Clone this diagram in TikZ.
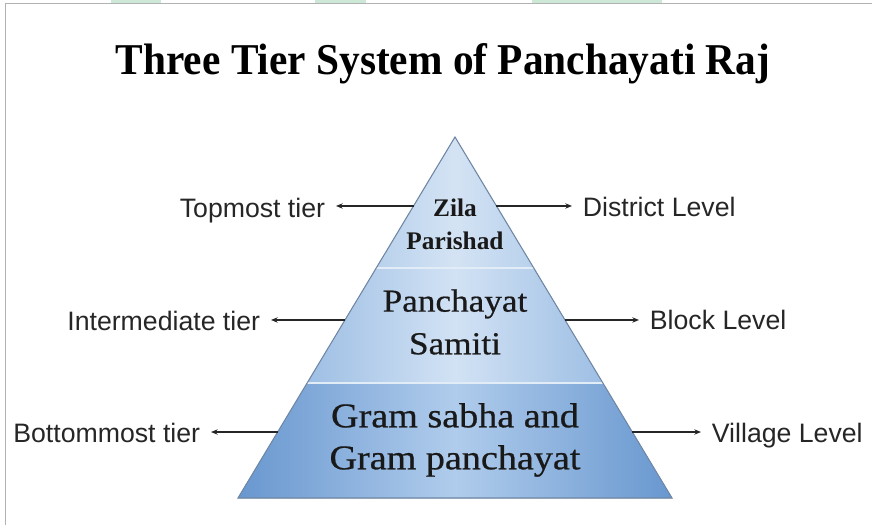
\documentclass[tikz,border=0pt]{standalone}
\usepackage{fontspec}
\setmainfont{Liberation Serif}
\newfontfamily\labelfont{Liberation Sans}
\newfontfamily\tierfont[FakeStretch=1.1,FakeBold=0.6]{Liberation Serif}
\newfontfamily\titlefont[FakeStretch=0.94]{Liberation Serif}
\usetikzlibrary{calc,arrows.meta}

\definecolor{framegray}{RGB}{178,178,178}
\definecolor{framegreen}{RGB}{205,232,215}
\definecolor{tieredge}{RGB}{112,136,166}
\definecolor{tiersep}{RGB}{226,236,247}

\tikzset{
  tierlabel/.style={font=\labelfont\fontsize{20}{24}\selectfont, inner sep=8pt, text=black!85},
  tierarrow/.style={-{Stealth[length=5pt,width=4pt]}, line width=0.9pt, black!85},
  tiertext/.style={align=center, inner sep=0pt, text=black!90}
}

\begin{document}
\begin{tikzpicture}[x=0.75pt,y=0.75pt,yscale=-1,xscale=1]
\useasboundingbox (0,0) rectangle (872,525);

%Frame
\fill[framegreen] (111,0) rectangle (161,3);
\fill[framegreen] (315,0) rectangle (366,3);
\fill[framegreen] (532,0) rectangle (662,3);
\draw[framegray, line width=1.1pt] (872,3.5) -- (5.5,3.5) -- (5.5,525);

% Text Node
\node[anchor=base, font=\titlefont\bfseries\fontsize{33}{38}\selectfont] (title) at (443,74) {Three Tier System of Panchayati Raj};

%Pyramid corners and band edges
\coordinate (apex) at (455,137);
\coordinate (bl) at (238,498);
\coordinate (br) at (672,498);
\coordinate (l1) at ($(apex)!0.3629!(bl)$);
\coordinate (r1) at ($(apex)!0.3629!(br)$);
\coordinate (l2) at ($(apex)!0.6814!(bl)$);
\coordinate (r2) at ($(apex)!0.6814!(br)$);

%Shape: top band
\fill[left color={rgb,255:red,184;green,209;blue,236}, right color={rgb,255:red,184;green,209;blue,236}, middle color={rgb,255:red,212;green,227;blue,244}] (apex) -- (r1) -- (l1) -- cycle;
%Shape: middle band
\fill[left color={rgb,255:red,158;green,191;blue,228}, right color={rgb,255:red,158;green,191;blue,228}, middle color={rgb,255:red,210;green,226;blue,244}] (l1) -- (r1) -- (r2) -- (l2) -- cycle;
%Shape: bottom band
\fill[left color={rgb,255:red,104;green,151;blue,207}, right color={rgb,255:red,104;green,151;blue,207}, middle color={rgb,255:red,176;green,204;blue,236}] (l2) -- (r2) -- (br) -- (bl) -- cycle;

%Band separators
\draw[tiersep, line width=1.1pt] (l1) -- (r1);
\draw[tiersep, line width=1.1pt] (l2) -- (r2);
%Outline
\draw[tieredge, line width=0.8pt] (apex) -- (br) -- (bl) -- cycle;

% Text Node
\node[tiertext, font=\bfseries\fontsize{19}{25}\selectfont] (zila) at (455,224) {Zila\\Parishad};
\node[tiertext, font=\tierfont\fontsize{24}{32}\selectfont] (samiti) at (455,322) {Panchayat\\Samiti};
\node[tiertext, font=\tierfont\fontsize{26}{31.5}\selectfont] (gram) at (455,440) {Gram sabha and\\Gram panchayat};

%Arrow start points on the pyramid sides
\coordinate (el1) at ($(apex)!0.1911!(bl)$);
\coordinate (er1) at ($(apex)!0.1911!(br)$);
\coordinate (el2) at ($(apex)!0.5069!(bl)$);
\coordinate (er2) at ($(apex)!0.5069!(br)$);
\coordinate (el3) at ($(apex)!0.8172!(bl)$);
\coordinate (er3) at ($(apex)!0.8172!(br)$);

% Text Node
\node[tierlabel, anchor=base east] (topmost) at (336,217) {Topmost tier};
\node[tierlabel, anchor=base east] (intermediate) at (271,330) {Intermediate tier};
\node[tierlabel, anchor=base east] (bottommost) at (211,442) {Bottommost tier};
\node[tierlabel, anchor=base west] (district) at (572,216) {District Level};
\node[tierlabel, anchor=base west] (block) at (639,329) {Block Level};
\node[tierlabel, anchor=base west] (village) at (701,442) {Village Level};

%Straight Lines
\draw[tierarrow] (el1) -- (el1 -| topmost.east);
\draw[tierarrow] (el2) -- (el2 -| intermediate.east);
\draw[tierarrow] (el3) -- (el3 -| bottommost.east);
\draw[tierarrow] (er1) -- (er1 -| district.west);
\draw[tierarrow] (er2) -- (er2 -| block.west);
\draw[tierarrow] (er3) -- (er3 -| village.west);

\end{tikzpicture}
\end{document}
